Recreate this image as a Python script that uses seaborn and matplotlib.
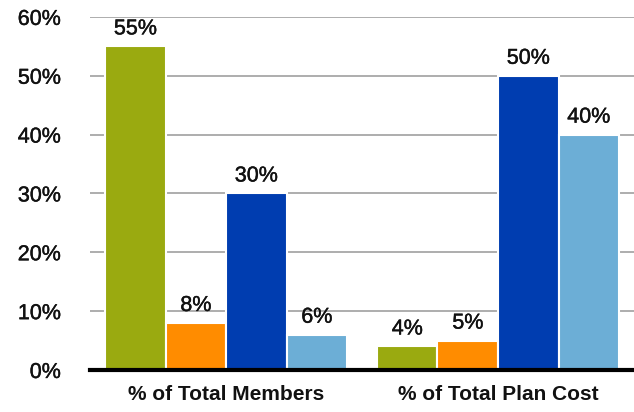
import matplotlib
matplotlib.use("Agg")
import matplotlib.pyplot as plt
import matplotlib.patheffects as pe
import seaborn as sns
import pandas as pd

categories = ["% of Total Members", "% of Total Plan Cost"]
series = ["A", "B", "C", "D"]
values_members = [55, 8, 30, 6]
values_cost = [4, 5, 50, 40]
colors = ["#9aaa10", "#ff8c00", "#003db0", "#6caed6"]
yticks = [0, 10, 20, 30, 40, 50, 60]

rows = []
for s, v in zip(series, values_members):
    rows.append({"cat": categories[0], "series": s, "value": v})
for s, v in zip(series, values_cost):
    rows.append({"cat": categories[1], "series": s, "value": v})
df = pd.DataFrame(rows)

sns.set_theme(style="white")
plt.rcParams["font.family"] = ["Liberation Sans", "DejaVu Sans"]

fig = plt.figure(figsize=(6.34, 4.12), dpi=100)
ax = fig.add_axes([0.142, 0.102, 0.858, 0.857])

sns.barplot(data=df, x="cat", y="value", hue="series", order=categories,
            hue_order=series, palette=colors, width=0.89, ax=ax,
            edgecolor="white", linewidth=1.5, legend=False, saturation=1)

heavy = [pe.withStroke(linewidth=0.3, foreground="#111111")]

ax.set_ylim(0, 60)
ax.set_xlim(-0.5, 1.5)
ax.set_yticks(yticks)
ax.set_yticklabels([f"{t}%" for t in yticks], fontsize=15.5, color="#111111")
for lab in ax.get_yticklabels():
    lab.set_path_effects(heavy)
ax.yaxis.grid(True, color="#a0a0a0", linewidth=1.2)
ax.set_axisbelow(True)
ax.tick_params(axis="y", length=0, pad=21)
ax.tick_params(axis="x", length=0, pad=11)
for lab in ax.get_xticklabels():
    lab.set_fontweight("bold")
    lab.set_fontsize(15)
    lab.set_color("#111111")
ax.set_xlabel("")
ax.set_ylabel("")
for side in ["top", "right", "left"]:
    ax.spines[side].set_visible(False)
ax.spines["bottom"].set_color("black")
ax.spines["bottom"].set_linewidth(3)

for cont in ax.containers:
    texts = ax.bar_label(cont, labels=[f"{v:.0f}%" for v in cont.datavalues],
                         padding=5, fontsize=15.5, color="#111111")
    for t in texts:
        t.set_path_effects(heavy)

fig.savefig("out.png", dpi=100)
